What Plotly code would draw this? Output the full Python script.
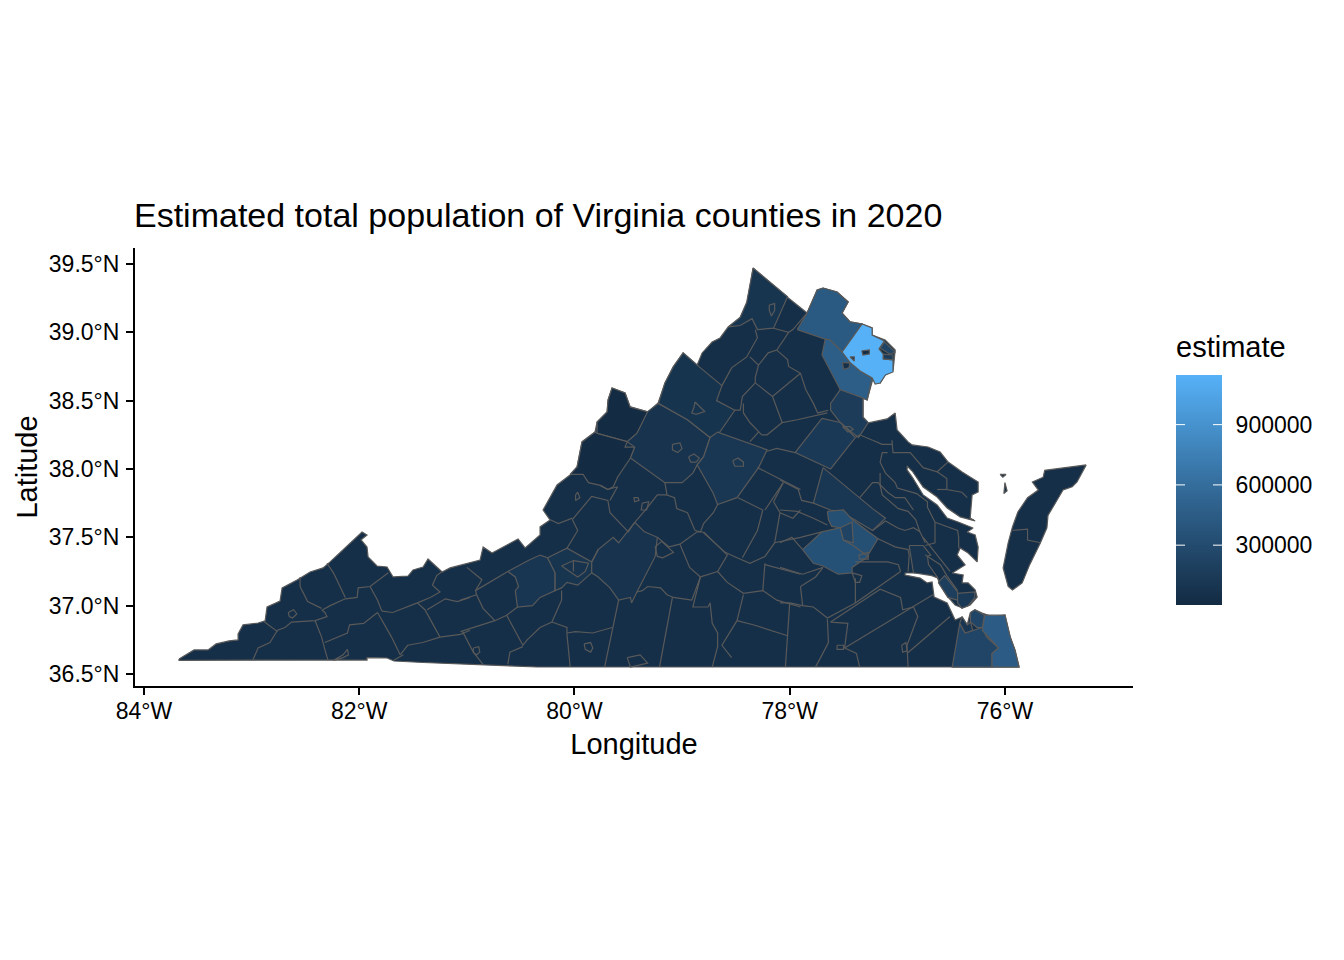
import plotly.graph_objects as go
from plotly.colors import sample_colorscale

# ---------- colour scale and legend values ----------
ESTIMATE_MIN = 2200
ESTIMATE_MAX = 1147000
colour_stops = [[0, "#132B43"], [0.25, "#234A6D"], [0.5, "#336A98"], [0.75, "#448DC7"], [1, "#56B1F7"]]
legend_ticks = [300000, 600000, 900000]

# ---------- axis ticks ----------
lon_ticks = [-84, -82, -80, -78, -76]
lon_labels = ["84°W", "82°W", "80°W", "78°W", "76°W"]
lat_ticks = [36.5, 37.0, 37.5, 38.0, 38.5, 39.0, 39.5]
lat_labels = ["36.5°N", "37.0°N", "37.5°N", "38.0°N", "38.5°N", "39.0°N", "39.5°N"]

# ---------- state outline (mainland, eastern shore, Tangier) ----------
base_estimate = 35000
mainland = [(-83.675,36.61),(-83.60,36.646),(-83.535,36.676),(-83.405,36.676),(-83.33,36.72),(-83.21,36.742),(-83.126,36.749),(-83.126,36.793),(-83.08,36.859),(-82.94,36.873),(-82.875,36.888),(-82.857,36.99),(-82.736,37.034),(-82.717,37.129),(-82.578,37.188),(-82.457,37.246),(-82.336,37.276),(-82.271,37.32),(-81.974,37.539),(-81.928,37.517),(-81.983,37.481),(-81.928,37.429),(-81.918,37.356),(-81.835,37.29),(-81.742,37.283),(-81.686,37.21),(-81.546,37.217),(-81.50,37.261),(-81.407,37.283),(-81.361,37.341),(-81.23,37.246),(-81.156,37.276),(-80.989,37.312),(-80.877,37.334),(-80.849,37.429),(-80.766,37.385),(-80.524,37.488),(-80.459,37.422),(-80.32,37.517),(-80.32,37.576),(-80.227,37.627),(-80.292,37.70),(-80.162,37.883),(-80.041,37.956),(-79.976,38.015),(-79.93,38.198),(-79.809,38.271),(-79.79,38.344),(-79.697,38.417),(-79.688,38.505),(-79.651,38.593),(-79.53,38.556),(-79.483,38.454),(-79.316,38.417),(-79.223,38.483),(-79.158,38.629),(-79.084,38.746),(-78.991,38.849),(-78.86,38.761),(-78.814,38.849),(-78.721,38.929),(-78.647,38.959),(-78.572,39.039),(-78.461,39.105),(-78.396,39.215),(-78.368,39.346),(-78.34,39.471),(-78.024,39.259),(-77.838,39.141),(-77.745,39.31),(-77.69,39.324),(-77.56,39.295),(-77.457,39.222),(-77.513,39.141),(-77.439,39.076),(-77.327,39.061),(-77.234,39.032),(-77.234,38.98),(-77.113,38.944),(-77.02,38.871),(-77.039,38.724),(-77.113,38.688),(-77.16,38.629),(-77.225,38.666),(-77.234,38.637),(-77.281,38.505),(-77.318,38.519),(-77.318,38.38),(-77.271,38.337),(-77.095,38.366),(-77.02,38.41),(-77.002,38.285),(-76.90,38.198),(-76.862,38.176),(-76.714,38.161),(-76.602,38.124),(-76.528,38.051),(-76.398,37.978),(-76.249,37.905),(-76.249,37.832),(-76.305,37.81),(-76.323,37.641),(-76.277,37.62),(-76.416,37.649),(-76.537,37.715),(-76.63,37.795),(-76.76,37.868),(-76.816,37.934),(-76.862,37.985),(-76.909,38.022),(-76.909,37.993),(-76.862,37.941),(-76.816,37.883),(-76.76,37.81),(-76.63,37.737),(-76.537,37.641),(-76.435,37.612),(-76.296,37.568),(-76.351,37.539),(-76.277,37.517),(-76.249,37.429),(-76.258,37.32),(-76.342,37.385),(-76.416,37.422),(-76.444,37.371),(-76.37,37.298),(-76.49,37.239),(-76.388,37.224),(-76.398,37.166),(-76.342,37.166),(-76.277,37.115),(-76.258,37.063),(-76.323,37.005),(-76.398,36.983),(-76.463,37.005),(-76.528,37.063),(-76.602,37.151),(-76.63,37.21),(-76.677,37.224),(-76.788,37.239),(-76.928,37.239),(-76.928,37.224),(-76.788,37.202),(-76.723,37.166),(-76.677,37.173),(-76.658,37.063),(-76.537,37.02),(-76.481,36.932),(-76.463,36.895),(-76.398,36.917),(-76.351,36.859),(-76.323,36.946),(-76.277,36.968),(-76.212,36.946),(-76.11,36.917),(-76.0,36.932),(-75.952,36.771),(-75.906,36.676),(-75.868,36.551),(-80.348,36.551),(-81.128,36.573),(-81.407,36.584),(-81.677,36.595),(-81.742,36.617),(-81.928,36.62),(-81.928,36.602),(-83.675,36.60)]
eastern_shore = [(-75.245,38.03),(-75.33,37.905),(-75.375,37.87),(-75.46,37.846),(-75.515,37.773),(-75.60,37.66),(-75.61,37.57),(-75.67,37.46),(-75.77,37.30),(-75.84,37.166),(-75.93,37.115),(-75.97,37.14),(-76.017,37.276),(-75.97,37.46),(-75.93,37.576),(-75.88,37.685),(-75.79,37.79),(-75.69,37.846),(-75.745,37.905),(-75.645,37.94),(-75.63,37.99),(-75.46,38.007)]
tangier_a = [(-76.045,37.96),(-75.99,37.96),(-76.02,37.94)]
tangier_b = [(-76.0,37.90),(-75.98,37.84),(-76.01,37.82)]

# ---------- counties whose tone differs from the base ----------
county_names = ["Highland","Bath","Augusta","Rockingham","Albemarle","Montgomery","Roanoke Co.","Roanoke","Bedford","Frederick",
    "Loudoun","Prince William","Fairfax","Arlington","Alexandria","Fairfax City","Manassas","Manassas Park",
    "Stafford","Spotsylvania","Hanover","Henrico","Chesterfield","Richmond","James City","Newport News","Hampton",
    "Chesapeake","Virginia Beach","Norfolk","Portsmouth"]
county_estimates = [2200,4000,75000,82000,110000,98000,94000,80000,79000,90000,
    420000,470000,1147000,235000,158000,24000,41000,17000,
    155000,135000,108000,330000,350000,228000,77000,180000,135000,
    245000,450000,242000,95000]
county_rings = [
 [(-79.79,38.26),(-79.79,38.344),(-79.697,38.417),(-79.688,38.505),(-79.651,38.593),(-79.53,38.556),(-79.483,38.454),(-79.316,38.417),(-79.42,38.26),(-79.51,38.20)],
 [(-79.79,38.26),(-79.51,38.20),(-79.53,38.16),(-79.44,38.16),(-79.48,38.08),(-79.60,37.94),(-79.64,37.87),(-79.69,37.85),(-79.76,37.88),(-79.87,37.90),(-79.92,37.96),(-80.04,37.96),(-79.976,38.015),(-79.93,38.198),(-79.809,38.271)],
 [(-79.22,38.48),(-78.95,38.36),(-78.74,38.23),(-78.80,38.09),(-78.86,38.03),(-78.90,37.97),(-79.0,37.90),(-79.13,37.90),(-79.16,37.90),(-79.48,38.08),(-79.44,38.16),(-79.51,38.20),(-79.42,38.26),(-79.32,38.42)],
 [(-79.22,38.48),(-79.16,38.63),(-79.08,38.75),(-78.99,38.85),(-78.86,38.76),(-78.63,38.61),(-78.68,38.50),(-78.51,38.43),(-78.65,38.27),(-78.74,38.23),(-78.95,38.36)],
 [(-78.74,38.23),(-78.67,38.27),(-78.21,38.14),(-78.29,38.01),(-78.49,37.79),(-78.62,37.75),(-78.67,37.74),(-78.71,37.82),(-78.86,38.03),(-78.80,38.09)],
 [(-80.62,37.25),(-80.43,37.33),(-80.32,37.37),(-80.25,37.35),(-80.18,37.24),(-80.18,37.11),(-80.32,37.06),(-80.39,37.0),(-80.53,36.99),(-80.55,37.11),(-80.52,37.14),(-80.55,37.21)],
 [(-80.25,37.35),(-80.07,37.42),(-79.84,37.32),(-79.84,37.24),(-79.97,37.15),(-80.07,37.17),(-80.12,37.13),(-80.18,37.11),(-80.18,37.24)],
 [(-80.12,37.29),(-80.01,37.33),(-79.87,37.31),(-79.90,37.25),(-79.97,37.21),(-80.07,37.26)],
 [(-79.44,37.61),(-79.35,37.54),(-79.23,37.50),(-79.25,37.36),(-79.42,37.10),(-79.47,37.02),(-79.48,37.06),(-79.59,37.04),(-79.67,37.13),(-79.78,37.21),(-79.84,37.24),(-79.84,37.32),(-79.78,37.41),(-79.64,37.50),(-79.59,37.46)],
 [(-78.34,39.47),(-78.02,39.26),(-78.15,39.03),(-78.30,39.02),(-78.35,39.10),(-78.46,39.05),(-78.57,39.04),(-78.46,39.11),(-78.40,39.22),(-78.37,39.35)],
 [(-77.93,39.02),(-77.84,39.14),(-77.745,39.31),(-77.69,39.324),(-77.56,39.295),(-77.457,39.222),(-77.513,39.141),(-77.439,39.076),(-77.327,39.061),(-77.513,38.856),(-77.625,38.944),(-77.67,38.95)],
 [(-77.67,38.95),(-77.625,38.944),(-77.513,38.856),(-77.44,38.78),(-77.346,38.717),(-77.234,38.666),(-77.28,38.505),(-77.53,38.58),(-77.70,38.834)],
 [(-77.327,39.061),(-77.234,39.032),(-77.234,38.98),(-77.12,38.937),(-77.17,38.878),(-77.13,38.84),(-77.13,38.805),(-77.04,38.798),(-77.04,38.71),(-77.11,38.688),(-77.16,38.629),(-77.206,38.622),(-77.234,38.666),(-77.346,38.717),(-77.44,38.78),(-77.513,38.856)],
 [(-77.12,38.93),(-77.02,38.856),(-77.067,38.84),(-77.16,38.885)],
 [(-77.13,38.84),(-77.04,38.834),(-77.04,38.798),(-77.13,38.805)],
 [(-77.33,38.864),(-77.26,38.871),(-77.26,38.842),(-77.32,38.834)],
 [(-77.51,38.78),(-77.44,38.775),(-77.45,38.74),(-77.50,38.73)],
 [(-77.44,38.82),(-77.40,38.82),(-77.40,38.79)],
 [(-77.53,38.58),(-77.32,38.52),(-77.32,38.38),(-77.27,38.34),(-77.36,38.23),(-77.41,38.26),(-77.53,38.34),(-77.62,38.43),(-77.62,38.48)],
 [(-77.70,38.37),(-77.95,38.12),(-77.62,38.0),(-77.39,38.23),(-77.53,38.34)],
 [(-77.69,38.01),(-77.35,37.79),(-77.23,37.71),(-77.11,37.64),(-77.23,37.55),(-77.42,37.64),(-77.50,37.68),(-77.62,37.70),(-77.78,37.75)],
 [(-77.65,37.69),(-77.50,37.70),(-77.42,37.63),(-77.18,37.49),(-77.28,37.36),(-77.42,37.44),(-77.50,37.48),(-77.53,37.57),(-77.61,37.58),(-77.64,37.63)],
 [(-77.88,37.41),(-77.70,37.54),(-77.53,37.57),(-77.50,37.48),(-77.41,37.44),(-77.27,37.36),(-77.42,37.28),(-77.42,37.24),(-77.55,37.23),(-77.69,37.29),(-77.78,37.31)],
 [(-77.53,37.57),(-77.42,37.61),(-77.41,37.46),(-77.50,37.48)],
 [(-76.89,37.44),(-76.76,37.44),(-76.69,37.37),(-76.72,37.36),(-76.71,37.30),(-76.62,37.20),(-76.68,37.22),(-76.85,37.24)],
 [(-76.62,37.17),(-76.56,37.22),(-76.44,37.10),(-76.44,37.04),(-76.53,37.06)],
 [(-76.44,37.09),(-76.28,37.10),(-76.28,37.06),(-76.34,37.0),(-76.40,36.98),(-76.44,37.02)],
 [(-76.42,36.87),(-76.37,36.80),(-76.21,36.84),(-76.17,36.77),(-76.06,36.69),(-76.12,36.65),(-76.12,36.55),(-76.49,36.55)],
 [(-76.19,36.93),(-76.0,36.93),(-75.95,36.77),(-75.91,36.68),(-75.87,36.55),(-76.12,36.55),(-76.12,36.65),(-76.06,36.69),(-76.21,36.82)],
 [(-76.32,36.95),(-76.28,36.97),(-76.19,36.93),(-76.21,36.84),(-76.26,36.84),(-76.32,36.88)],
 [(-76.40,36.92),(-76.35,36.86),(-76.32,36.88),(-76.30,36.82),(-76.37,36.80),(-76.42,36.87)],
]

# ---------- independent-city rings (outlined only) ----------
city_rings = [
 [(-78.88,38.49),(-78.83,38.45),(-78.79,38.42),(-78.87,38.40),(-78.91,38.41),(-78.89,38.45)],
 [(-79.09,38.18),(-79.02,38.19),(-79.0,38.15),(-79.04,38.12),(-79.09,38.14)],
 [(-78.94,38.09),(-78.89,38.11),(-78.84,38.08),(-78.87,38.05),(-78.92,38.05)],
 [(-79.45,37.79),(-79.41,37.79),(-79.40,37.77),(-79.44,37.76)],
 [(-79.37,37.75),(-79.31,37.76),(-79.33,37.70),(-79.38,37.70)],
 [(-78.53,38.06),(-78.48,38.08),(-78.43,38.05),(-78.43,38.02),(-78.51,38.02)],
 [(-79.19,37.47),(-79.25,37.43),(-79.23,37.36),(-79.18,37.35),(-79.08,37.39)],
 [(-79.51,36.62),(-79.39,36.64),(-79.32,36.58),(-79.48,36.55)],
 [(-79.91,36.72),(-79.85,36.73),(-79.83,36.69),(-79.85,36.66),(-79.90,36.68)],
 [(-80.94,36.69),(-80.89,36.70),(-80.88,36.66),(-80.91,36.64),(-80.94,36.66)],
 [(-82.66,36.95),(-82.61,36.97),(-82.58,36.94),(-82.62,36.91),(-82.65,36.92)],
 [(-82.24,36.60),(-82.15,36.64),(-82.11,36.68),(-82.10,36.64),(-82.15,36.62)],
 [(-79.99,37.81),(-79.97,37.83),(-79.95,37.79),(-79.99,37.77)],
 [(-78.19,39.20),(-78.14,39.21),(-78.14,39.16),(-78.17,39.12),(-78.19,39.16)],
 [(-77.51,38.31),(-77.44,38.31),(-77.41,38.29),(-77.46,38.27)],
 [(-77.36,37.37),(-77.27,37.39),(-77.27,37.34),(-77.35,37.34)],
 [(-77.42,37.24),(-77.33,37.22),(-77.35,37.17),(-77.39,37.17)],
 [(-77.56,36.71),(-77.50,36.71),(-77.50,36.68),(-77.56,36.68)],
 [(-76.96,36.71),(-76.92,36.73),(-76.91,36.67),(-76.95,36.66)],
]

# ---------- remaining county boundaries ----------
boundaries = [
 [(-82.99,36.60),(-82.94,36.69),(-82.83,36.73),(-82.76,36.82),(-82.69,36.84),(-82.63,36.88),(-82.41,36.89),(-82.30,36.92),(-82.32,36.95),(-82.35,36.97)],
 [(-82.88,36.88),(-82.76,36.81)],
 [(-82.55,37.21),(-82.55,37.14),(-82.48,37.03),(-82.35,36.98)],
 [(-82.30,37.31),(-82.24,37.24),(-82.13,37.06)],
 [(-82.34,36.97),(-82.27,37.0),(-82.13,37.05),(-82.02,37.06),(-82.01,37.13),(-81.90,37.14),(-81.73,37.24)],
 [(-81.90,37.14),(-81.83,37.04),(-81.79,36.96)],
 [(-82.41,36.89),(-82.35,36.77),(-82.32,36.68),(-82.29,36.60)],
 [(-81.83,36.95),(-81.96,36.87),(-82.09,36.86),(-82.11,36.80),(-82.32,36.73)],
 [(-81.83,36.95),(-81.70,36.77),(-81.62,36.64)],
 [(-81.79,36.96),(-81.69,36.95),(-81.46,37.02),(-81.34,37.06),(-81.25,37.10),(-81.32,37.15),(-81.28,37.22),(-81.23,37.25)],
 [(-81.46,37.02),(-81.39,36.97),(-81.32,36.87),(-81.25,36.77)],
 [(-81.62,36.64),(-81.55,36.71),(-81.41,36.73),(-81.25,36.77),(-81.06,36.79),(-80.97,36.82)],
 [(-81.59,36.64),(-81.68,36.60)],
 [(-81.37,36.97),(-81.20,37.05),(-81.09,37.03),(-80.97,37.06)],
 [(-81.06,37.04),(-80.91,37.08),(-80.92,37.11),(-80.62,37.25)],
 [(-81.0,37.28),(-80.86,37.19),(-80.92,37.11)],
 [(-80.91,37.08),(-80.85,36.98),(-80.74,36.89)],
 [(-81.06,36.81),(-80.74,36.89),(-80.63,36.93),(-80.53,36.99)],
 [(-80.63,36.93),(-80.48,36.71),(-80.44,36.75),(-80.32,36.84),(-80.21,36.88),(-80.12,37.04),(-80.12,37.11)],
 [(-80.01,37.33),(-80.01,37.25)],
 [(-79.84,37.32),(-79.78,37.41)],
 [(-80.02,37.63),(-79.97,37.55),(-80.07,37.42)],
 [(-80.02,37.63),(-79.84,37.80),(-79.69,37.77),(-79.67,37.68),(-79.50,37.54),(-79.44,37.61)],
 [(-80.23,37.63),(-80.15,37.60),(-80.02,37.64)],
 [(-79.76,37.88),(-79.69,37.85),(-79.60,37.87),(-79.67,37.77)],
 [(-79.16,37.90),(-79.14,37.81),(-79.07,37.79),(-79.05,37.71),(-78.95,37.68),(-78.88,37.55)],
 [(-79.14,37.81),(-79.23,37.81),(-79.34,37.70),(-79.44,37.61)],
 [(-78.67,37.74),(-78.71,37.68),(-78.80,37.60),(-78.83,37.54),(-78.88,37.55)],
 [(-79.23,37.50),(-79.12,37.43),(-79.02,37.45),(-78.86,37.54),(-78.81,37.54)],
 [(-79.42,37.10),(-79.37,37.11),(-79.32,37.14),(-79.20,37.13),(-79.14,37.08),(-79.08,37.06),(-78.91,37.04)],
 [(-79.02,37.45),(-78.93,37.28),(-78.83,37.21),(-78.91,37.04)],
 [(-78.80,37.54),(-78.58,37.37),(-78.67,37.25),(-78.83,37.21)],
 [(-78.81,37.54),(-78.60,37.39),(-78.49,37.35),(-78.37,37.31),(-78.23,37.36),(-78.14,37.46),(-77.90,37.50),(-77.70,37.54)],
 [(-78.48,37.79),(-78.25,37.70),(-78.30,37.55),(-78.44,37.35)],
 [(-78.23,37.70),(-78.06,37.90)],
 [(-78.30,38.01),(-77.90,37.85)],
 [(-78.15,37.76),(-78.06,37.90)],
 [(-78.15,37.76),(-78.09,37.68),(-77.97,37.64),(-77.90,37.70)],
 [(-78.09,37.68),(-78.14,37.46)],
 [(-78.67,37.25),(-78.58,37.17),(-78.43,37.09),(-78.25,37.11),(-78.23,37.31)],
 [(-78.23,37.30),(-77.90,37.23)],
 [(-78.25,37.11),(-78.12,37.04),(-77.90,36.99)],
 [(-78.83,37.21),(-78.90,36.99),(-78.76,36.99),(-78.74,37.02),(-78.72,36.87),(-78.67,36.80),(-78.67,36.70),(-78.72,36.55)],
 [(-78.43,37.08),(-78.49,36.89),(-78.63,36.71),(-78.54,36.62)],
 [(-78.49,36.89),(-78.34,36.86),(-78.02,36.78)],
 [(-78.0,37.02),(-78.04,36.55)],
 [(-79.59,37.04),(-79.72,36.55)],
 [(-79.09,37.06),(-79.21,36.55)],
 [(-79.65,36.84),(-79.83,36.80),(-79.99,36.81),(-80.07,36.80)],
 [(-80.21,36.88),(-80.07,36.84),(-80.07,36.79),(-80.04,36.55)],
 [(-80.48,36.70),(-80.60,36.66),(-80.62,36.57)],
 [(-81.04,36.81),(-80.94,36.66),(-80.85,36.57)],
 [(-78.63,38.61),(-78.54,38.74),(-78.40,38.82),(-78.30,38.96),(-78.32,39.02)],
 [(-78.15,39.03),(-78.01,39.0),(-77.97,39.02),(-77.84,39.14)],
 [(-78.01,39.0),(-78.12,38.87),(-78.20,38.85),(-78.29,38.76),(-78.37,38.82)],
 [(-78.29,38.76),(-78.32,38.67),(-78.32,38.63),(-78.44,38.53),(-78.46,38.43),(-78.51,38.43)],
 [(-78.12,38.87),(-78.02,38.80),(-78.01,38.75),(-77.90,38.70),(-78.16,38.53),(-78.32,38.63)],
 [(-77.90,38.70),(-77.85,38.58),(-77.78,38.48),(-77.74,38.41),(-77.64,38.43)],
 [(-78.16,38.53),(-78.11,38.43),(-78.07,38.34),(-77.93,38.36),(-77.81,38.38),(-77.65,38.41)],
 [(-78.43,38.48),(-78.43,38.41),(-78.37,38.34),(-78.26,38.25),(-78.21,38.25),(-78.07,38.34)],
 [(-78.29,38.27),(-78.37,38.20)],
 [(-78.21,38.13),(-78.12,38.15),(-77.95,38.12)],
 [(-77.39,38.23),(-77.35,38.25),(-77.23,38.21)],
 [(-78.09,37.92),(-77.92,37.85),(-77.89,37.77),(-77.78,37.75)],
 [(-78.09,37.70),(-77.93,37.69),(-77.78,37.64),(-77.65,37.59)],
 [(-77.05,38.21),(-77.04,38.12),(-76.88,38.12),(-76.76,38.01),(-76.63,37.98),(-76.53,38.05)],
 [(-76.63,37.98),(-76.54,37.93),(-76.54,37.85),(-76.40,37.83),(-76.35,37.79)],
 [(-76.63,37.85),(-76.54,37.85)],
 [(-77.23,38.21),(-77.14,38.18),(-77.05,38.18)],
 [(-77.09,38.12),(-77.14,38.12),(-77.16,38.05),(-77.11,37.97),(-77.02,37.90),(-77.0,37.86),(-76.82,37.82),(-76.72,37.76),(-76.72,37.72),(-76.65,37.61)],
 [(-77.16,37.97),(-77.16,37.88),(-77.14,37.81),(-76.99,37.71),(-76.90,37.69),(-76.83,37.63),(-76.79,37.54),(-76.74,37.46)],
 [(-77.35,37.79),(-77.23,37.90),(-77.18,37.90),(-77.09,37.83),(-77.02,37.79),(-76.93,37.79),(-76.85,37.70)],
 [(-77.23,37.55),(-77.11,37.62),(-77.0,37.57),(-76.93,37.55),(-76.85,37.57),(-76.79,37.54)],
 [(-77.18,37.49),(-77.02,37.43),(-76.90,37.41),(-76.89,37.37),(-76.90,37.25)],
 [(-76.74,37.37),(-76.60,37.30),(-76.54,37.22),(-76.44,37.11)],
 [(-76.65,37.61),(-76.65,37.46),(-76.74,37.44)],
 [(-76.65,37.61),(-76.44,37.55),(-76.43,37.50),(-76.43,37.42)],
 [(-76.76,37.50),(-76.51,37.25)],
 [(-77.39,37.32),(-77.09,37.32),(-76.99,37.30),(-76.97,37.25)],
 [(-77.39,37.2),(-77.39,37.02),(-76.97,37.25)],
 [(-77.90,37.14),(-77.88,37.0),(-77.78,36.99),(-77.65,36.91),(-77.39,37.02)],
 [(-77.62,36.88),(-77.16,37.12),(-76.97,37.06),(-76.95,36.97),(-76.85,36.99),(-76.81,36.92),(-76.91,36.71),(-76.90,36.55)],
 [(-77.49,36.69),(-76.67,37.08)],
 [(-77.62,36.88),(-77.46,36.87),(-77.49,36.69),(-77.38,36.65),(-77.35,36.55)],
 [(-77.65,36.90),(-77.64,36.73),(-77.76,36.55)],
 [(-76.91,36.65),(-76.51,36.92)],
 [(-78.09,37.46),(-77.98,37.5),(-77.88,37.41)],
 [(-78.09,37.28),(-77.88,37.23),(-77.69,37.28)],
 [(-77.69,37.28),(-77.76,37.21),(-77.90,37.14)],
 [(-78.09,37.02),(-78.0,37.02),(-77.88,37.0)],
 [(-75.93,37.55),(-75.79,37.56),(-75.79,37.48),(-75.67,37.46)],
]

# ---------- layout constants (pixels of the 1344x960 page) ----------
W, H = 1344, 960
PANEL_L, PANEL_R, PANEL_T, PANEL_B = 135, 1133, 248, 686
BAR_L, BAR_W, BAR_T, BAR_B = 1176, 46, 375, 605
LEGEND_TICK = 9
LINE = "#595959"
FONT = "Liberation Sans"


def colour_of(value):
    t = (value - ESTIMATE_MIN) / (ESTIMATE_MAX - ESTIMATE_MIN)
    return sample_colorscale(colour_stops, [max(0, min(1, t))], colortype="rgb")[0]


def closed(ring):
    pts = list(ring) + [ring[0]]
    return [p[0] for p in pts], [p[1] for p in pts]


def add_region(fig, ring, value, name):
    xs, ys = closed(ring)
    fig.add_trace(go.Scatter(x=xs, y=ys, mode="lines", fill="toself", fillcolor=colour_of(value),
                             line=dict(color=LINE, width=1.2), name=name, showlegend=False, hoverinfo="name"))


def paper_x(px):
    return (px - PANEL_L) / (W - PANEL_L)


def paper_y(py):
    return (PANEL_B - py) / (PANEL_B - PANEL_T)


fig = go.Figure()
for ring, nm in [(mainland, "Virginia"), (eastern_shore, "Eastern Shore"), (tangier_a, "Tangier"), (tangier_b, "Tangier")]:
    add_region(fig, ring, base_estimate, nm)
for nm, val, ring in zip(county_names, county_estimates, county_rings):
    add_region(fig, ring, val, nm)

line_x, line_y = [], []
for path in boundaries:
    line_x += [p[0] for p in path] + [None]
    line_y += [p[1] for p in path] + [None]
for ring in city_rings:
    xs, ys = closed(ring)
    line_x += xs + [None]
    line_y += ys + [None]
fig.add_trace(go.Scatter(x=line_x, y=line_y, mode="lines", line=dict(color=LINE, width=1.2),
                         showlegend=False, hoverinfo="skip"))

# legend gradient bar, on its own small axes so the white ticks can sit on top of it
bar_steps = [ESTIMATE_MIN + i * (ESTIMATE_MAX - ESTIMATE_MIN) / 229 for i in range(230)]
fig.add_trace(go.Heatmap(z=[[v] for v in bar_steps], y=bar_steps, x=[0], xaxis="x2", yaxis="y2",
                         colorscale=colour_stops, zmin=ESTIMATE_MIN, zmax=ESTIMATE_MAX,
                         showscale=False, hoverinfo="skip"))

shapes = []
for v in legend_ticks:
    for a, b in [(0, LEGEND_TICK / BAR_W), (1 - LEGEND_TICK / BAR_W, 1)]:
        shapes.append(dict(type="line", xref="x2 domain", yref="y2", x0=a, x1=b, y0=v, y1=v,
                           line=dict(color="white", width=1), layer="above"))

fig.update_layout(
    width=W, height=H, autosize=False,
    margin=dict(l=PANEL_L, r=0, t=PANEL_T, b=H - PANEL_B, pad=0),
    paper_bgcolor="white", plot_bgcolor="white",
    font=dict(family=FONT, color="black"),
    title=dict(text="Estimated total population of Virginia counties in 2020", x=134 / W, xanchor="left",
               xref="container", y=(H - 215) / H, yanchor="middle", yref="container",
               font=dict(family=FONT, size=34, color="black")),
    shapes=shapes,
    annotations=[dict(text="estimate", xref="paper", yref="paper", showarrow=False, xanchor="left", yanchor="middle",
                      x=paper_x(BAR_L), xshift=-2, y=paper_y(347),
                      font=dict(family=FONT, size=29, color="black"))],
    xaxis=dict(domain=[0, paper_x(PANEL_R)], range=[-84.084, -74.81], tickmode="array", tickvals=lon_ticks,
               ticktext=lon_labels, showgrid=False, zeroline=False, showline=True, linecolor="black", linewidth=2,
               ticks="outside", ticklen=7, tickwidth=2, tickcolor="black", ticklabelstandoff=-4,
               tickfont=dict(family=FONT, size=23, color="black"),
               title=dict(text="Longitude", standoff=11, font=dict(family=FONT, size=29, color="black"))),
    yaxis=dict(range=[36.412, 39.617], tickmode="array", tickvals=lat_ticks, ticktext=lat_labels,
               showgrid=False, zeroline=False, showline=True, linecolor="black", linewidth=2,
               ticks="outside", ticklen=7, tickwidth=2, tickcolor="black", ticklabelstandoff=2,
               tickfont=dict(family=FONT, size=23, color="black"),
               title=dict(text="Latitude", standoff=3, font=dict(family=FONT, size=29, color="black"))),
    xaxis2=dict(domain=[paper_x(BAR_L), paper_x(BAR_L + BAR_W)], anchor="y2", range=[-0.5, 0.5], visible=False),
    yaxis2=dict(domain=[paper_y(BAR_B), paper_y(BAR_T)], anchor="x2", side="right", range=[ESTIMATE_MIN, ESTIMATE_MAX],
                tickmode="array", tickvals=legend_ticks, ticktext=[str(v) for v in legend_ticks],
                showgrid=False, zeroline=False, showline=False,
                ticks="outside", ticklen=8, tickwidth=1, tickcolor="rgba(0,0,0,0)",
                tickfont=dict(family=FONT, size=23, color="black")),
)

fig.write_html("out.html", post_script="document.body.style.margin='0';", config={"displayModeBar": False})
